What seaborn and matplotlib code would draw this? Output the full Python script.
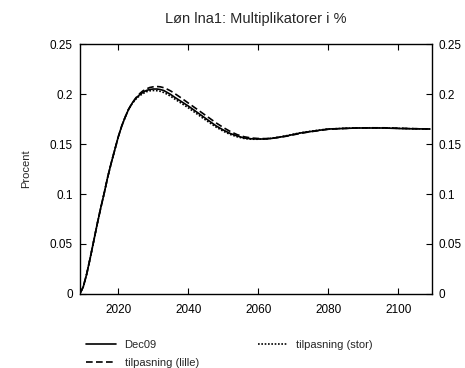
import matplotlib
matplotlib.use("Agg")
import matplotlib.pyplot as plt
import seaborn as sns
import pandas as pd

years = [2009, 2010, 2011, 2012, 2013, 2014, 2015, 2016, 2017, 2018, 2019, 2020,
         2021, 2022, 2023, 2024, 2025, 2026, 2027, 2028, 2029, 2030, 2031, 2032,
         2033, 2034, 2035, 2036, 2038, 2040, 2042, 2044, 2046, 2048, 2050, 2052,
         2054, 2056, 2058, 2060, 2062, 2064, 2066, 2068, 2070, 2072, 2074, 2076,
         2078, 2080, 2084, 2088, 2092, 2096, 2100, 2104, 2109]

dec09 = [0.0, 0.007, 0.020, 0.036, 0.053, 0.070, 0.086, 0.101, 0.117, 0.131, 0.144, 0.157,
         0.168, 0.177, 0.185, 0.191, 0.1955, 0.199, 0.2015, 0.2035, 0.2045, 0.205, 0.205, 0.2045,
         0.2035, 0.2015, 0.1995, 0.197, 0.1925, 0.188, 0.183, 0.178, 0.173, 0.168, 0.164, 0.1605,
         0.158, 0.156, 0.1552, 0.155, 0.155, 0.1557, 0.1568, 0.158, 0.1595, 0.161, 0.162, 0.163,
         0.164, 0.165, 0.1655, 0.166, 0.166, 0.166, 0.1655, 0.1652, 0.165]

lille = [0.0, 0.007, 0.020, 0.036, 0.053, 0.070, 0.086, 0.101, 0.117, 0.131, 0.144, 0.157,
         0.168, 0.177, 0.185, 0.191, 0.196, 0.2, 0.203, 0.205, 0.2065, 0.2072, 0.2075, 0.2072,
         0.2063, 0.2048, 0.203, 0.2008, 0.196, 0.191, 0.186, 0.181, 0.176, 0.171, 0.1665, 0.1625,
         0.1593, 0.1572, 0.156, 0.1555, 0.1554, 0.1558, 0.1567, 0.1578, 0.1592, 0.1606, 0.1618, 0.1628,
         0.1638, 0.1647, 0.1655, 0.166, 0.1662, 0.1662, 0.1658, 0.1654, 0.165]

stor = [0.0, 0.007, 0.020, 0.036, 0.053, 0.070, 0.086, 0.101, 0.117, 0.131, 0.144, 0.157,
        0.168, 0.177, 0.185, 0.1905, 0.1948, 0.198, 0.2003, 0.2022, 0.2032, 0.2035, 0.2033, 0.2027,
        0.2015, 0.1997, 0.1977, 0.1953, 0.1908, 0.1862, 0.1813, 0.1763, 0.1715, 0.1668, 0.1628, 0.1595,
        0.1572, 0.1555, 0.1548, 0.1548, 0.155, 0.1558, 0.157, 0.1583, 0.1598, 0.1612, 0.1623, 0.1633,
        0.1642, 0.165, 0.1656, 0.1661, 0.1662, 0.1661, 0.1657, 0.1653, 0.165]

series_names = ["Dec09", "tilpasning (lille)", "tilpasning (stor)"]
title = "Løn lna1: Multiplikatorer i %"
ylabel = "Procent"
yticks = [0, 0.05, 0.1, 0.15, 0.2, 0.25]
ytick_labels = ["0", "0.05", "0.1", "0.15", "0.2", "0.25"]
xticks = [2020, 2040, 2060, 2080, 2100]

df = pd.concat([
    pd.DataFrame({"year": years, "value": vals, "series": name})
    for name, vals in zip(series_names, [dec09, lille, stor])
], ignore_index=True)

sns.set_style("ticks")
plt.rcParams["font.family"] = ["Liberation Sans", "DejaVu Sans"]

fig = plt.figure(figsize=(4.65, 3.68), dpi=100)
ax = fig.add_axes([0.1714, 0.2011, 0.7570, 0.6793])

sns.lineplot(data=df, x="year", y="value", style="series", hue="series",
             palette=["black", "black", "black"],
             dashes={"Dec09": "", "tilpasning (lille)": (4, 2), "tilpasning (stor)": (1, 1)},
             linewidth=1.2, ax=ax, legend=True)

ax.set_xlim(2009, 2109.5)
ax.set_ylim(0, 0.25)
ax.set_xticks(xticks)
ax.set_yticks(yticks)
ax.set_yticklabels(ytick_labels)
ax.set_xlabel("")
ax.set_ylabel(ylabel, fontsize=8, labelpad=13)
ax.set_title(title, fontsize=10.5, pad=15)
for s in ax.spines.values():
    s.set_visible(True)
    s.set_color("black")
    s.set_linewidth(1.0)
ax.tick_params(axis="both", direction="in", length=4, width=0.8, labelsize=8.5,
               top=True, right=True, labelright=True, colors="black")
ax.tick_params(axis="x", pad=7)
ax.tick_params(axis="y", pad=5)

handles, labels = ax.get_legend_handles_labels()
ax.legend(handles, labels, loc="upper left", bbox_to_anchor=(0.006, -0.165), ncol=2,
          frameon=False, fontsize=8, handlelength=2.7, columnspacing=5.3,
          labelspacing=0.75, handletextpad=0.75, borderaxespad=0)

fig.savefig("out.png", dpi=100)
